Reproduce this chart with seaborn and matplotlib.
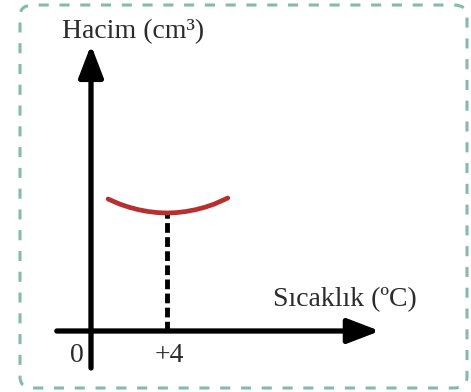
import numpy as np
import pandas as pd
import matplotlib
matplotlib.use("Agg")
import matplotlib.pyplot as plt
import seaborn as sns
from matplotlib.patches import FancyBboxPatch

# values (volume in arbitrary units)
temperature = [0.9, 1.5, 2.0, 2.5, 3.0, 3.5, 4.0, 4.5, 5.0, 5.5, 6.0, 6.5, 7.2]
volume = [13.2, 12.7, 12.38, 12.13, 11.95, 11.84, 11.8, 11.84, 11.95, 12.13, 12.38, 12.7, 13.3]
min_temp = 4.0
min_volume = 11.8
x_ticks = [0, 4]
x_tick_labels = ["0", "+4"]
y_label = "Hacim (cm³)"
x_label = "Sıcaklık (ºC)"

sns.set_style("white")
plt.rcParams['font.family'] = ['Liberation Serif', 'DejaVu Serif']

fig = plt.figure(figsize=(4.71, 3.92), dpi=100)
ax = fig.add_axes([0, 0, 1, 1])
ax.set_xlim(-91 / 19, (471 - 91) / 19)
ax.set_ylim(-61 / 10, 331 / 10)
ax.axis("off")

# dashed rounded frame
frame = FancyBboxPatch((20 / 471, 4 / 392), 447 / 471, 383 / 392,
                       boxstyle="round,pad=0,rounding_size=0.028",
                       transform=fig.transFigure, fill=False,
                       edgecolor="#86bba5", linewidth=2.2,
                       linestyle=(0, (3.3, 3.5)))
fig.patches.append(frame)

# axes arrows
arrow = dict(arrowstyle="-|>,head_length=1.95,head_width=0.75", color="black",
             lw=3.8, shrinkA=0, shrinkB=0)
ax.annotate("", xy=(15.2, 0), xytext=(-1.8, 0), arrowprops=arrow)
ax.annotate("", xy=(0, 28.6), xytext=(0, -3.7), arrowprops=arrow)

# dashed drop line at the minimum
ax.plot([min_temp, min_temp], [0, min_volume], color="black", lw=3.5,
        linestyle=(0, (2.0, 0.9)), solid_capstyle="butt")

df = pd.DataFrame({"t": temperature, "v": volume})
sns.lineplot(data=df, x="t", y="v", ax=ax, color="#b5302e", lw=3.4,
             solid_capstyle="round")

ax.text(-1.55, 29.9, y_label, fontsize=20, color="#2b2b2b", ha="left", va="center")
ax.text(9.6, 3.1, x_label, fontsize=20, color="#2b2b2b", ha="left", va="center")
ax.text(-0.75, -2.45, x_tick_labels[0], fontsize=20, color="#2b2b2b", ha="center", va="center")
ax.text(x_ticks[1] + 0.1, -2.45, x_tick_labels[1], fontsize=20, color="#2b2b2b", ha="center", va="center")

fig.savefig("out.png", dpi=100)
